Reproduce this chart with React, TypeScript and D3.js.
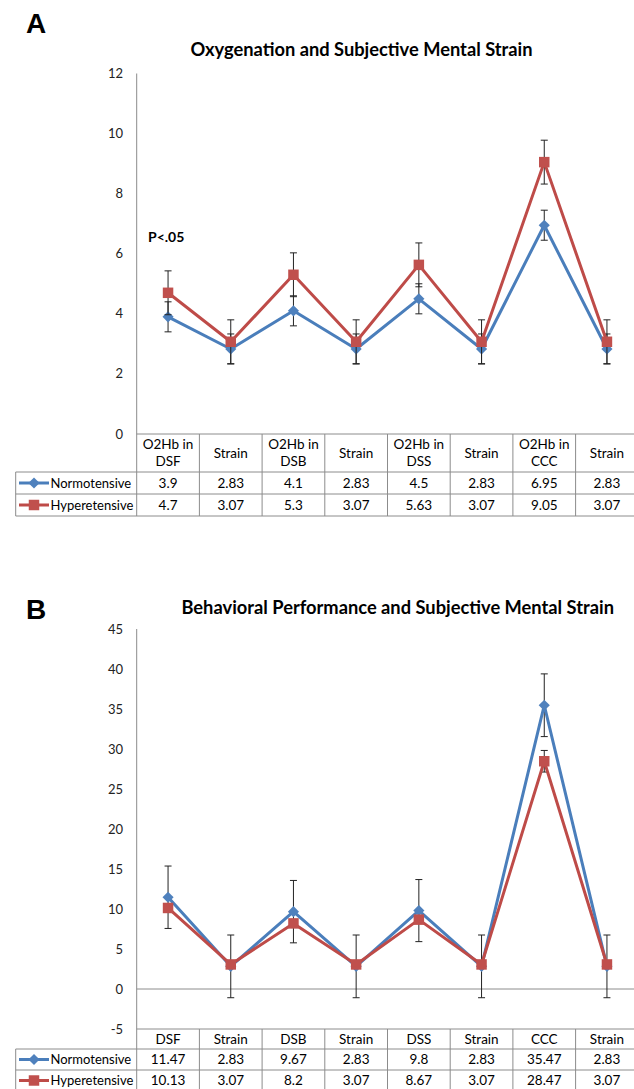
import React from 'react';
import * as d3 from 'd3';

const W = 634;
const H = 1089;

// panel A
const oxyCategories = [['O2Hb in', 'DSF'], ['Strain'], ['O2Hb in', 'DSB'], ['Strain'], ['O2Hb in', 'DSS'], ['Strain'], ['O2Hb in', 'CCC'], ['Strain']];
const oxyNormo = [3.9, 2.83, 4.1, 2.83, 4.5, 2.83, 6.95, 2.83];
const oxyHyper = [4.7, 3.07, 5.3, 3.07, 5.63, 3.07, 9.05, 3.07];
const oxyNormoErr = [0.5, 0.5, 0.5, 0.5, 0.5, 0.5, 0.5, 0.5];
const oxyHyperErr = [0.73, 0.73, 0.73, 0.73, 0.73, 0.73, 0.73, 0.73];
const oxyTicks = [0, 2, 4, 6, 8, 10, 12];

// panel B
const behCategories = [['DSF'], ['Strain'], ['DSB'], ['Strain'], ['DSS'], ['Strain'], ['CCC'], ['Strain']];
const behNormo = [11.47, 2.83, 9.67, 2.83, 9.8, 2.83, 35.47, 2.83];
const behHyper = [10.13, 3.07, 8.2, 3.07, 8.67, 3.07, 28.47, 3.07];
const behNormoErr = [3.9, 3.92, 3.9, 3.92, 3.88, 3.92, 3.92, 3.92];
const behHyperErr = [0, 0, 0, 0, 0, 0, 1.35, 0];
const behTicks = [-5, 0, 5, 10, 15, 20, 25, 30, 35, 40, 45];

const seriesNames = ['Normotensive', 'Hyperetensive'];
const lineColors = ['#4A7EBB', '#BE4B48'];
const markerColors = ['#4F81BD', '#C0504D'];

const FONT = 'Lato, "Open Sans", sans-serif';
const AXIS_X = 136.7;
const COL_W = 62.7;
const TABLE_LEFT = 15.7;
const GRID = '#8c8c8c';
const TXT = 13.5;

function Marker({ kind, x, y, color }) {
  const path = kind === 0
    ? d3.symbol(d3.symbolSquare, 62)()
    : d3.symbol(d3.symbolSquare, 110)();
  const rot = kind === 0 ? 45 : 0;
  return <path d={path} fill={color} transform={`translate(${x},${y}) rotate(${rot})`} />;
}

function Panel({ letter, letterY, title, titleX, titleY, categories, normo, hyper, normoErr, hyperErr, ticks, plotTop, plotBottom, headerH, rowH, note }) {
  const idx = categories.map((_, i) => String(i));
  const x = d3.scaleBand().domain(idx).range([AXIS_X, AXIS_X + COL_W * categories.length]).paddingInner(0).paddingOuter(0);
  const y = d3.scaleLinear().domain([ticks[0], ticks[ticks.length - 1]]).range([plotBottom, plotTop]);
  const cx = (i) => x(String(i)) + x.bandwidth() / 2;
  const series = [normo, hyper];
  const errs = [normoErr, hyperErr];
  const line = d3.line<number>().x((_, i) => cx(i)).y((d) => y(d));
  const right = AXIS_X + COL_W * categories.length;
  const headTop = plotBottom;
  const row1 = headTop + headerH;
  const row2 = row1 + rowH;
  const tableBottom = row2 + rowH;

  return (
    <g>
      <text x={26} y={letterY} fontFamily='"Liberation Sans", Arial, sans-serif' fontWeight="bold" fontSize={28}>{letter}</text>
      <text x={titleX} y={titleY} textAnchor="middle" fontFamily={FONT} fontWeight="bold" fontSize={18.3}>{title}</text>
      {note && <text x={148} y={note.y} dy="0.35em" fontFamily={FONT} fontWeight="bold" fontSize={14}>{note.text}</text>}

      {/* y axis */}
      <line x1={AXIS_X} x2={AXIS_X} y1={plotTop} y2={tableBottom} stroke={GRID} strokeWidth={1} />
      {ticks.map((t) => (
        <text key={t} x={123} y={y(t)} dy="0.35em" textAnchor="end" fontFamily={FONT} fontSize={13} fill="#222">{t}</text>
      ))}
      {ticks[0] < 0 && <line x1={AXIS_X} x2={right} y1={y(0)} y2={y(0)} stroke={GRID} strokeWidth={1} />}

      {/* data table */}
      <line x1={AXIS_X} x2={right} y1={headTop} y2={headTop} stroke={GRID} />
      {[row1, row2, tableBottom].map((yy) => (
        <line key={yy} x1={TABLE_LEFT} x2={right} y1={yy} y2={yy} stroke={GRID} />
      ))}
      <line x1={TABLE_LEFT} x2={TABLE_LEFT} y1={row1} y2={tableBottom} stroke={GRID} />
      {categories.map((c, i) => (
        <line key={'v' + i} x1={x(String(i)) + COL_W} x2={x(String(i)) + COL_W} y1={headTop} y2={tableBottom} stroke={GRID} />
      ))}
      {categories.map((c, i) => (
        <text key={'c' + i} x={cx(i)} y={headTop + headerH / 2 - (c.length - 1) * 8.5} textAnchor="middle" fontFamily={FONT} fontSize={TXT}>
          {c.map((s, j) => <tspan key={j} x={cx(i)} dy={j === 0 ? '0.35em' : 17}>{s}</tspan>)}
        </text>
      ))}
      {series.map((vals, s) => {
        const ry = (s === 0 ? row1 : row2) + rowH / 2;
        return (
          <g key={'row' + s}>
            <line x1={19} x2={49} y1={ry} y2={ry} stroke={lineColors[s]} strokeWidth={3} />
            <Marker kind={s} x={34} y={ry} color={markerColors[s]} />
            <text x={50.5} y={ry} dy="0.35em" fontFamily={FONT} fontSize={13}>{seriesNames[s]}</text>
            {vals.map((v, i) => (
              <text key={i} x={cx(i)} y={ry} dy="0.35em" textAnchor="middle" fontFamily={FONT} fontSize={TXT}>{v}</text>
            ))}
          </g>
        );
      })}

      {/* series */}
      {series.map((vals, s) => (
        <g key={'s' + s}>
          {vals.map((v, i) => errs[s][i] > 0 && (
            <g key={i} stroke="#222" strokeWidth={1}>
              <line x1={cx(i)} x2={cx(i)} y1={y(v - errs[s][i])} y2={y(v + errs[s][i])} />
              <line x1={cx(i) - 3.5} x2={cx(i) + 3.5} y1={y(v - errs[s][i])} y2={y(v - errs[s][i])} />
              <line x1={cx(i) - 3.5} x2={cx(i) + 3.5} y1={y(v + errs[s][i])} y2={y(v + errs[s][i])} />
            </g>
          ))}
          <path d={line(vals)} fill="none" stroke={lineColors[s]} strokeWidth={3} strokeLinejoin="round" />
          {vals.map((v, i) => <Marker key={i} kind={s} x={cx(i)} y={y(v)} color={markerColors[s]} />)}
        </g>
      ))}
    </g>
  );
}

export default function App() {
  return (
    <svg width={W} height={H} viewBox={`0 0 ${W} ${H}`} style={{ position: 'absolute', left: 0, top: 0, background: '#fff' }}>
      <rect width={W} height={H} fill="#fff" />
      <Panel
        letter="A" letterY={33}
        title="Oxygenation and Subjective Mental Strain" titleX={361.5} titleY={56}
        categories={oxyCategories} normo={oxyNormo} hyper={oxyHyper}
        normoErr={oxyNormoErr} hyperErr={oxyHyperErr} ticks={oxyTicks}
        plotTop={73.5} plotBottom={434} headerH={38} rowH={22}
        note={{ text: 'P<.05', y: 237 }}
      />
      <Panel
        letter="B" letterY={619}
        title="Behavioral Performance and Subjective Mental Strain" titleX={397.7} titleY={614}
        categories={behCategories} normo={behNormo} hyper={behHyper}
        normoErr={behNormoErr} hyperErr={behHyperErr} ticks={behTicks}
        plotTop={629} plotBottom={1029} headerH={20} rowH={21}
      />
    </svg>
  );
}
